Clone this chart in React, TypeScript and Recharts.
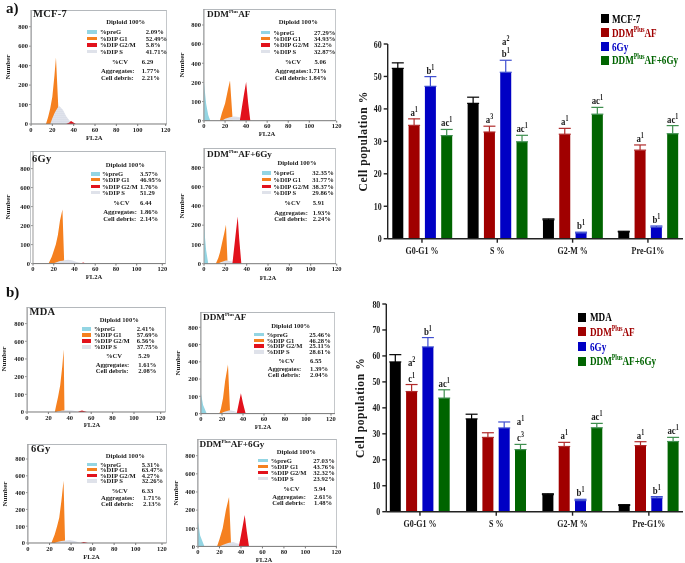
import React from "react";
import {
  Area,
  AreaChart,
  Bar,
  BarChart,
  ErrorBar,
  LabelList,
  XAxis,
  YAxis,
} from "recharts";

const SERIF = '"Liberation Serif", serif';
const _ = null;

// ---- bar charts ----
const groupsA = ["G0-G1 %", "S %", "G2-M %", "Pre-G1%"];
const groupsB = ["G0-G1 %", "S %", "G2-M %", "Pre-G1%"];

const mcfMean = [52.49, 41.71, 5.8, 2.09];
const mcfErr = [1.7, 1.9, 0.3, 0.2];
const mcfNotes = ["", "", "", ""];
const ddmAMean = [34.93, 32.87, 32.2, 27.29];
const ddmAErr = [2.0, 1.8, 1.8, 1.6];
const ddmANotes = ["a1", "a3", "a1", "a1"];
const gyAMean = [46.95, 51.29, 1.76, 3.57];
const gyAErr = [3.0, 3.7, 0.25, 0.35];
const gyANotes = ["b1", "a2|b1", "b1", "b1"];
const comboAMean = [31.77, 29.86, 38.37, 32.35];
const comboAErr = [1.9, 2.0, 2.1, 2.5];
const comboANotes = ["ac1", "ac1", "ac1", "ac1"];

const mdaMean = [57.69, 35.75, 6.56, 2.41];
const mdaErr = [2.8, 1.8, 0.35, 0.3];
const mdaNotes = ["", "", "", ""];
const ddmBMean = [46.28, 28.61, 25.11, 25.46];
const ddmBErr = [2.7, 1.8, 1.6, 1.5];
const ddmBNotes = ["a2|c1", "", "a1", "a1"];
const gyBMean = [63.47, 32.26, 4.27, 5.31];
const gyBErr = [3.6, 2.3, 0.5, 0.5];
const gyBNotes = ["b1", "", "b1", "b1"];
const comboBMean = [43.76, 23.92, 32.32, 27.03];
const comboBErr = [3.2, 2.0, 1.7, 1.6];
const comboBNotes = ["ac1", "a1|c3", "ac1", "ac1"];

const legendA = ["MCF-7", "DDM|Plus|AF", "6Gy", "DDM|Plus|AF+6Gy"];
const legendB = ["MDA", "DDM|Plus|AF", "6Gy", "DDM|Plus|AF+6Gy"];
const barColors = ["#000000", "#a00000", "#0000c4", "#006400"];
const errColors = ["#000000", "#b02a2a", "#3f4fd0", "#3f8f4f"];

const tableA = groupsA.map((name, i) => ({
  name,
  s0: mcfMean[i], e0: [0, mcfErr[i]], n0: mcfNotes[i], t0: mcfErr[i],
  s1: ddmAMean[i], e1: [0, ddmAErr[i]], n1: ddmANotes[i], t1: ddmAErr[i],
  s2: gyAMean[i], e2: [0, gyAErr[i]], n2: gyANotes[i], t2: gyAErr[i],
  s3: comboAMean[i], e3: [0, comboAErr[i]], n3: comboANotes[i], t3: comboAErr[i],
}));
const tableB = groupsB.map((name, i) => ({
  name,
  s0: mdaMean[i], e0: [0, mdaErr[i]], n0: mdaNotes[i], t0: mdaErr[i],
  s1: ddmBMean[i], e1: [0, ddmBErr[i]], n1: ddmBNotes[i], t1: ddmBErr[i],
  s2: gyBMean[i], e2: [0, gyBErr[i]], n2: gyBNotes[i], t2: gyBErr[i],
  s3: comboBMean[i], e3: [0, comboBErr[i]], n3: comboBNotes[i], t3: comboBErr[i],
}));

// ---- histograms, counts read at each FL2A position ----
const a1X = [14, 16, 18, 20, 22, 23.4, 25.6, 26.5, 30, 33, 36, 37.5, 39, 42];
const a1Pre = [_, _, _, _, _, _, _, _, _, _, _, _, _, _];
const a1G1 = [0, 35, 80, 140, 300, 484, 85, _, _, _, _, _, _, _];
const a1S = [_, _, 0, 30, 55, 70, 88, 92, 72, 40, 18, 12, 6, 0];
const a1G2 = [_, _, _, _, _, _, _, _, _, 0, 8, 15, 10, 0];

const a2X = [0, 2, 4, 6, 15, 17, 20, 23, 24.7, 27, 28, 31, 34, 36, 38, 40, 42, 44];
const a2Pre = [200, 90, 30, 0, _, _, _, _, _, _, _, _, _, _, _, _, _, _];
const a2G1 = [_, _, _, _, 0, 40, 90, 170, 220, 20, _, _, _, _, _, _, _, _];
const a2S = [_, _, _, _, _, 0, 10, 15, 18, 20, 22, 20, 18, 12, 8, 0, _, _];
const a2G2 = [_, _, _, _, _, _, _, _, _, _, _, _, 0, 70, 140, 205, 90, 0];

const a3X = [15, 18, 19, 22, 24, 26, 28.4, 30, 34, 38, 42, 46, 48.4, 51];
const a3Pre = [_, _, _, _, _, _, _, _, _, _, _, _, _, _];
const a3G1 = [0, 35, 50, 100, 150, 250, 370, 20, _, _, _, _, _, _];
const a3S = [_, _, 0, 6, 10, 13, 15, 17, 20, 16, 9, 3, 0, _];
const a3G2 = [_, _, _, _, _, _, _, _, _, _, _, 0, 6, 0];

const a4X = [0, 2, 4, 11, 13.4, 15, 17, 19, 20.6, 22, 25, 26.6, 28, 30, 31.6, 33, 35];
const a4Pre = [195, 70, 0, _, _, _, _, _, _, _, _, _, _, _, _, _, _];
const a4G1 = [_, _, _, 0, 30, 60, 110, 160, 205, 15, _, _, _, _, _, _, _];
const a4S = [_, _, _, _, 0, 6, 10, 14, 16, 17, 13, 10, 7, 3, 0, _, _];
const a4G2 = [_, _, _, _, _, _, _, _, _, _, _, 0, 70, 170, 290, 130, 0];

const b1X = [26, 27, 29, 31, 33, 34.3, 35, 38, 42, 45, 47.7, 49, 51.4, 56];
const b1Pre = [_, _, _, _, _, _, _, _, _, _, _, _, _, _];
const b1G1 = [0, 30, 85, 150, 320, 508, 10, _, _, _, _, _, _, _];
const b1S = [_, 0, 4, 6, 8, 9, 10, 10, 8, 5, 2, 0, _, _];
const b1G2 = [_, _, _, _, _, _, _, _, _, _, 0, 4, 9, 0];

const b2X = [0, 2, 5.4, 17.5, 19, 21, 23, 25.7, 27.6, 31, 34, 36, 38, 40, 42.5];
const b2Pre = [115, 50, 0, _, _, _, _, _, _, _, _, _, _, _, _];
const b2G1 = [_, _, _, 0, 30, 90, 190, 370, 20, _, _, _, _, _, _];
const b2S = [_, _, _, _, 0, 8, 12, 16, 19, 15, 9, 5, 0, _, _];
const b2G2 = [_, _, _, _, _, _, _, _, _, _, 0, 60, 118, 60, 0];

const b3X = [21.7, 24.8, 27, 29, 31, 33, 34.4, 38.7, 43, 47, 49, 51.7, 55.7];
const b3Pre = [_, _, _, _, _, _, _, _, _, _, _, _, _];
const b3G1 = [0, 50, 100, 150, 300, 540, 12, _, _, _, _, _, _];
const b3S = [_, 0, 6, 9, 12, 14, 15, 18, 12, 4, 2, 0, _];
const b3G2 = [_, _, _, _, _, _, _, _, _, _, 0, 6, 0];

const b4X = [0, 2, 6, 17.7, 20, 23, 26, 28.9, 30.7, 32.6, 36, 38, 40, 43.5, 45.5, 47.5];
const b4Pre = [137, 60, 0, _, _, _, _, _, _, _, _, _, _, _, _, _];
const b4G1 = [_, _, _, 0, 40, 100, 200, 345, 24, _, _, _, _, _, _, _];
const b4S = [_, _, _, _, 0, 8, 14, 20, 22, 24, 18, 14, 10, 0, _, _];
const b4G2 = [_, _, _, _, _, _, _, _, _, _, _, 0, 60, 173, 80, 0];

const yTickLabels = ["0", "100", "200", "400", "600", "800"];
const xTickLabels = ["0", "20", "40", "60", "80", "100", "120"];
const rowLabels = ["%preG", "%DIP G1", "%DIP G2/M", "%DIP S"];
const swatchColors = ["#93d5e3", "#f5801f", "#e2121c", "#dfe2ea"];

// the flow cytometry y axis is not linear: equal spacing for 0,100,200,400,600,800
const toAxis = (v: number | null) => {
  if (v === null) return null;
  if (v <= 200) return v / 100;
  return 2 + (v - 200) / 200;
};

const panels = [
  {
    title: "MCF-7", x: a1X, pre: a1Pre, g1: a1G1, s: a1S, g2: a1G2,
    vals: ["2.09%", "52.49%", "5.8%", "41.71%"], cv: "6.29", agg: "1.77%", deb: "2.21%",
    box: { l: 30.7, r: 166.7, top: 10, x0: 31, x100: 137.7, x120: 165.7, y0: 124, y800: 26.7 },
    tx: [33, 14], dip: [125.7, 21.3], sw: 87, lab: 100, val: 145.7, rows: [31.7, 38, 44.7, 51],
    cvPos: [112, 141.7, 61], sub: [101, 141.7], aggY: 70.3, debY: 77, fl: 94.3, num: 7.5,
  },
  {
    title: "DDM|Plus|AF", x: a2X, pre: a2Pre, g1: a2G1, s: a2S, g2: a2G2,
    vals: ["27.29%", "34.93%", "32.2%", "32.87%"], cv: "5.06", agg: "1.71%", deb: "1.84%",
    box: { l: 203.3, r: 336, top: 9, x0: 204, x100: 309.3, x120: 336.7, y0: 120.7, y800: 25 },
    tx: [207, 14], dip: [298.3, 21.7], sw: 260.7, lab: 273.3, val: 314, rows: [32, 38.3, 44.7, 51],
    cvPos: [285, 314.5, 61], sub: [275, 308.5], aggY: 70.3, debY: 77, fl: 267, num: 181.5,
  },
  {
    title: "6Gy", x: a3X, pre: a3Pre, g1: a3G1, s: a3S, g2: a3G2,
    vals: ["3.57%", "46.95%", "1.76%", "51.29"], cv: "6.44", agg: "1.86%", deb: "2.14%",
    box: { l: 30, r: 165.7, top: 150.7, x0: 33, x100: 136.7, x120: 162.3, y0: 263.3, y800: 168.3 },
    tx: [32, 158.5], dip: [125.3, 164], sw: 90.7, lab: 102, val: 140, rows: [173.7, 179.3, 186, 192.3],
    cvPos: [113.3, 140, 202.7], sub: [103.3, 140], aggY: 211.7, debY: 218, fl: 94, num: 7.5,
  },
  {
    title: "DDM|Plus|AF+6Gy", x: a4X, pre: a4Pre, g1: a4G1, s: a4S, g2: a4G2,
    vals: ["32.35%", "31.77%", "38.37%", "29.86%"], cv: "5.91", agg: "1.93%", deb: "2.24%",
    box: { l: 203.7, r: 336, top: 148.3, x0: 204, x100: 310.7, x120: 336.7, y0: 264, y800: 167.7 },
    tx: [207, 153.5], dip: [297, 162.3], sw: 261.7, lab: 273.3, val: 312.3, rows: [172.7, 179.3, 186, 192.3],
    cvPos: [284.3, 312.7, 202.7], sub: [274.3, 312.7], aggY: 212, debY: 218.7, fl: 268, num: 182,
  },
  {
    title: "MDA", x: b1X, pre: b1Pre, g1: b1G1, s: b1S, g2: b1G2,
    vals: ["2.41%", "57.69%", "6.56%", "37.75%"], cv: "5.29", agg: "1.61%", deb: "2.08%",
    box: { l: 27, r: 165.7, top: 306.7, x0: 27.3, x100: 134.3, x120: 161, y0: 411.7, y800: 323.3 },
    tx: [29.5, 311.5], dip: [119.3, 319], sw: 81.7, lab: 94, val: 136.7, rows: [328.7, 334.7, 340.7, 346.7],
    cvPos: [106, 138.3, 355.7], sub: [95.7, 138.3], aggY: 364.7, debY: 370.7, fl: 92, num: 4,
  },
  {
    title: "DDM|Plus|AF", x: b2X, pre: b2Pre, g1: b2G1, s: b2S, g2: b2G2,
    vals: ["25.46%", "46.28%", "25.11%", "28.61%"], cv: "6.55", agg: "1.39%", deb: "2.04%",
    box: { l: 200, r: 335, top: 311.7, x0: 201, x100: 306, x120: 331, y0: 413.3, y800: 327 },
    tx: [203, 317], dip: [290.7, 325], sw: 254, lab: 266.7, val: 309.3, rows: [334.3, 340, 345.7, 351.7],
    cvPos: [278.3, 310, 360], sub: [267.7, 310], aggY: 368.7, debY: 374.7, fl: 263, num: 177.5,
  },
  {
    title: "6Gy", x: b3X, pre: b3Pre, g1: b3G1, s: b3S, g2: b3G2,
    vals: ["5.31%", "63.47%", "4.27%", "32.26%"], cv: "6.33", agg: "1.71%", deb: "2.13%",
    box: { l: 26.7, r: 166.7, top: 444, x0: 28.3, x100: 136, x120: 162.3, y0: 543, y800: 459 },
    tx: [31, 449], dip: [125.3, 455], sw: 87.3, lab: 100, val: 141.7, rows: [464, 469.3, 475, 480.7],
    cvPos: [111.7, 141.7, 490], sub: [101, 143], aggY: 497.7, debY: 503.7, fl: 91.5, num: 4.5,
  },
  {
    title: "DDM|Plus|AF+6Gy", x: b4X, pre: b4Pre, g1: b4G1, s: b4S, g2: b4G2,
    vals: ["27.03%", "43.76%", "32.32%", "23.92%"], cv: "5.94", agg: "2.61%", deb: "1.48%",
    box: { l: 196.7, r: 337, top: 439.3, x0: 198.3, x100: 305.7, x120: 336.7, y0: 546.7, y800: 456 },
    tx: [199.5, 444], dip: [296.3, 451.7], sw: 258.3, lab: 270.7, val: 313.3, rows: [460, 466, 472, 478.3],
    cvPos: [283.3, 314, 488], sub: [272.3, 314], aggY: 496.7, debY: 502.7, fl: 264, num: 175.5,
  },
];

const Small = ({ x, y, children, center }: any) => (
  <span
    style={{
      position: "absolute",
      left: x,
      top: y - 2.5,
      height: 5,
      lineHeight: "5px",
      fontFamily: SERIF,
      fontWeight: 700,
      fontSize: 6.6,
      color: "#222",
      whiteSpace: "nowrap",
      transform: center ? "translateX(-50%)" : undefined,
    }}
  >
    {children}
  </span>
);

const Title = ({ x, y, text }: any) => {
  const bits = text.split("|");
  const plus = bits.length > 1;
  return (
    <span
      style={{
        position: "absolute",
        left: x,
        top: y - 7,
        lineHeight: "14px",
        fontFamily: SERIF,
        fontWeight: 700,
        fontSize: plus ? 9.2 : 10.5,
        color: "#1a1a1a",
        whiteSpace: "nowrap",
        letterSpacing: plus ? 0 : 0.3,
      }}
    >
      {bits[0]}
      {plus && (
        <>
          <sup style={{ fontSize: 5, lineHeight: 0 }}>{bits[1]}</sup>
          {bits[2]}
        </>
      )}
    </span>
  );
};

const Histogram = ({ p, id }: any) => {
  const b = p.box;
  const chartLeft = b.x0 - 28;
  const chartTop = b.top - 2;
  const plotH = b.y0 - b.top;
  const step = (b.y0 - b.y800) / 5;
  const unit = (b.x100 - b.x0) / 100;
  const xTop = (b.r - b.x0) / unit;
  const lastTick = (b.x120 - b.x0) / unit;
  const xTicks = [0, 20, 40, 60, 80, 100, lastTick];
  const data = p.x.map((x: number, i: number) => ({
    x,
    pre: toAxis(p.pre[i]),
    g1: toAxis(p.g1[i]),
    s: toAxis(p.s[i]),
    g2: toAxis(p.g2[i]),
  }));
  const tickStyle = { fontFamily: SERIF, fontWeight: 700, fontSize: 6.5, fill: "#222" };
  return (
    <>
      <div
        style={{
          position: "absolute",
          left: b.l,
          top: b.top,
          width: b.r - b.l,
          height: plotH,
          borderTop: "1.5px solid #b4b8bc",
          borderLeft: "1.5px solid #c4c7ca",
          borderRight: "1.5px solid #c4c7ca",
          boxSizing: "border-box",
        }}
      />
      <div style={{ position: "absolute", left: chartLeft, top: chartTop }}>
        <AreaChart
          width={b.r - chartLeft + 14}
          height={plotH + 2 + 20}
          data={data}
          margin={{ top: 2, right: 14, bottom: 0, left: 0 }}
        >
          <defs>
            <pattern id={`dots${id}`} width="2" height="2" patternUnits="userSpaceOnUse">
              <rect width="2" height="2" fill="#eceef4" />
              <circle cx="1" cy="1" r="0.6" fill="#aab2c8" />
            </pattern>
          </defs>
          <XAxis
            dataKey="x"
            type="number"
            domain={[0, xTop]}
            ticks={xTicks}
            interval={0}
            tickFormatter={(_v: number, i: number) => xTickLabels[i]}
            tick={tickStyle}
            tickSize={2}
            tickMargin={1}
            height={20}
            stroke="#777"
            allowDataOverflow
          />
          <YAxis
            type="number"
            domain={[0, plotH / step]}
            ticks={[0, 1, 2, 3, 4, 5]}
            interval={0}
            tickFormatter={(v: number) => yTickLabels[v]}
            tick={tickStyle}
            tickSize={2}
            tickMargin={1}
            width={28}
            stroke="#999"
            allowDataOverflow
          />
          <Area dataKey="pre" type="linear" stroke="none" fill={swatchColors[0]} fillOpacity={1} dot={false} activeDot={false} isAnimationActive={false} />
          <Area dataKey="g1" type="linear" stroke="none" fill={swatchColors[1]} fillOpacity={1} dot={false} activeDot={false} isAnimationActive={false} />
          <Area dataKey="s" type="linear" stroke="none" fill={`url(#dots${id})`} fillOpacity={1} dot={false} activeDot={false} isAnimationActive={false} />
          <Area dataKey="g2" type="linear" stroke="none" fill={swatchColors[2]} fillOpacity={1} dot={false} activeDot={false} isAnimationActive={false} />
        </AreaChart>
      </div>
      <Title x={p.tx[0]} y={p.tx[1]} text={p.title} />
      <Small x={p.dip[0]} y={p.dip[1]} center>Diploid 100%</Small>
      {rowLabels.map((label, i) => (
        <React.Fragment key={label}>
          <div
            style={{
              position: "absolute",
              left: p.sw,
              top: p.rows[i] - 1.5,
              width: 9.5,
              height: 3.5,
              background: swatchColors[i],
            }}
          />
          <Small x={p.lab} y={p.rows[i]}>{label}</Small>
          <Small x={p.val} y={p.rows[i]}>{p.vals[i]}</Small>
        </React.Fragment>
      ))}
      <Small x={p.cvPos[0]} y={p.cvPos[2]}>%CV</Small>
      <Small x={p.cvPos[1]} y={p.cvPos[2]}>{p.cv}</Small>
      <Small x={p.sub[0]} y={p.aggY}>Aggregates:</Small>
      <Small x={p.sub[1]} y={p.aggY}>{p.agg}</Small>
      <Small x={p.sub[0]} y={p.debY}>Cell debris:</Small>
      <Small x={p.sub[1]} y={p.debY}>{p.deb}</Small>
      <Small x={p.fl} y={b.y0 + 13} center>FL2A</Small>
      <span
        style={{
          position: "absolute",
          left: p.num,
          top: (b.top + b.y0) / 2,
          fontFamily: SERIF,
          fontWeight: 700,
          fontSize: 7,
          lineHeight: "8px",
          color: "#222",
          transform: "translate(-50%,-50%) rotate(-90deg)",
        }}
      >
        Number
      </span>
    </>
  );
};

const BarLegend = ({ x, textX, rows, labels }: any) => (
  <>
    {labels.map((label: string, i: number) => {
      const bits = label.split("|");
      return (
        <React.Fragment key={i}>
          <div
            style={{
              position: "absolute",
              left: x,
              top: rows[i] - 4.5,
              width: 8,
              height: 9,
              background: barColors[i],
            }}
          />
          <span
            style={{
              position: "absolute",
              left: textX,
              top: rows[i] - 8,
              lineHeight: "16px",
              fontFamily: SERIF,
              fontWeight: 700,
              fontSize: 12.5,
              color: barColors[i],
              whiteSpace: "nowrap",
              transform: "scaleX(0.73)",
              transformOrigin: "left center",
            }}
          >
            {bits[0]}
            {bits.length > 1 && (
              <>
                <sup style={{ fontSize: 8, lineHeight: 0 }}>{bits[1]}</sup>
                {bits[2]}
              </>
            )}
          </span>
        </React.Fragment>
      );
    })}
  </>
);

const NoteText = ({ cx, y, note }: any) => {
  const base = note.slice(0, -1);
  const sup = note.slice(-1);
  return (
    <g transform={`translate(${cx},${y}) scale(0.8,1)`}>
      <text
        x={0}
        y={0}
        textAnchor="middle"
        fontFamily={SERIF}
        fontWeight={700}
        fontSize={11}
        fill="#1a1a1a"
      >
        <tspan>{base}</tspan>
        <tspan dy={-4} fontSize={7.5}>{sup}</tspan>
      </text>
    </g>
  );
};

const XTick = ({ x, y, payload }: any) => (
  <g transform={`translate(${x},${y + 9}) scale(0.8,1)`}>
    <text textAnchor="middle" fontFamily={SERIF} fontWeight={700} fontSize={10} fill="#1a1a1a">
      {payload.value}
    </text>
  </g>
);

const YTick = ({ x, y, payload }: any) => (
  <g transform={`translate(${x},${y + 3.5}) scale(0.72,1)`}>
    <text textAnchor="end" fontFamily={SERIF} fontWeight={700} fontSize={11} fill="#1a1a1a">
      {payload.value}
    </text>
  </g>
);

const PopulationChart = ({ data, left, top, yTop, yTicks, plotH, yWidth, pad, lineGap, titleDx }: any) => {
  const perUnit = plotH / yTop;
  const renderNote = (errKey: string) => (props: any) => {
    const { x, y, width, value, index } = props;
    if (!value) return null;
    const err = data[index][errKey];
    const topY = y - err * perUnit - 3;
    const cx = x + width / 2;
    const lines = String(value).split("|").reverse();
    return (
      <g>
        {lines.map((note: string, i: number) => (
          <NoteText key={i} cx={cx} y={topY - i * lineGap} note={note} />
        ))}
      </g>
    );
  };
  return (
    <div style={{ position: "absolute", left, top }}>
      <BarChart
        width={345}
        height={250}
        data={data}
        barSize={11}
        barGap={5.3}
        margin={{ top: 24, right: 2, bottom: 0, left: 0 }}
      >
        <XAxis
          dataKey="name"
          interval={0}
          padding={pad}
          tick={<XTick />}
          tickSize={4}
          height={226 - plotH}
          stroke="#222"
          strokeWidth={1.4}
        />
        <YAxis
          type="number"
          domain={[0, yTop]}
          ticks={yTicks}
          interval={0}
          tick={<YTick />}
          tickSize={4}
          width={yWidth}
          stroke="#222"
          strokeWidth={1.4}
          label={{
            value: "Cell population %",
            angle: -90,
            position: "insideLeft",
            dx: titleDx,
            style: {
              fontFamily: SERIF,
              fontWeight: 700,
              fontSize: 11.5,
              letterSpacing: 0.6,
              fill: "#1a1a1a",
              textAnchor: "middle",
            },
          }}
        />
        {[0, 1, 2, 3].map((k) => (
          <Bar key={k} dataKey={`s${k}`} fill={barColors[k]} isAnimationActive={false}>
            <ErrorBar dataKey={`e${k}`} width={6} stroke={errColors[k]} strokeWidth={1.2} isAnimationActive={false} />
            <LabelList dataKey={`n${k}`} content={renderNote(`t${k}`)} />
          </Bar>
        ))}
      </BarChart>
    </div>
  );
};

export default function App() {
  return (
    <div style={{ position: "absolute", left: 0, top: 0, width: 685, height: 563, background: "#fff", overflow: "hidden", filter: "blur(0.4px)" }}>
      <span style={{ position: "absolute", left: 6, top: -1, fontFamily: SERIF, fontWeight: 700, fontSize: 15, lineHeight: "18px", color: "#111" }}>a)</span>
      <span style={{ position: "absolute", left: 6, top: 283, fontFamily: SERIF, fontWeight: 700, fontSize: 15, lineHeight: "18px", color: "#111" }}>b)</span>
      {panels.map((p, i) => (
        <Histogram key={i} p={p} id={i} />
      ))}
      <PopulationChart
        data={tableA}
        left={340}
        top={20}
        yTop={60}
        yTicks={[0, 10, 20, 30, 40, 50, 60]}
        plotH={194.7}
        yWidth={47.7}
        pad={{ left: -3.4, right: -2.6 }}
        lineGap={12}
        titleDx={18}
      />
      <PopulationChart
        data={tableB}
        left={340}
        top={280}
        yTop={80}
        yTicks={[0, 10, 20, 30, 40, 50, 60, 70, 80]}
        plotH={207.7}
        yWidth={46.3}
        pad={{ left: -4.5, right: -4 }}
        lineGap={16}
        titleDx={15}
      />
      <BarLegend x={600.7} textX={611.7} rows={[18.7, 32.7, 46.7, 60]} labels={legendA} />
      <BarLegend x={577.5} textX={590} rows={[317.3, 331.7, 346.7, 361]} labels={legendB} />
    </div>
  );
}
